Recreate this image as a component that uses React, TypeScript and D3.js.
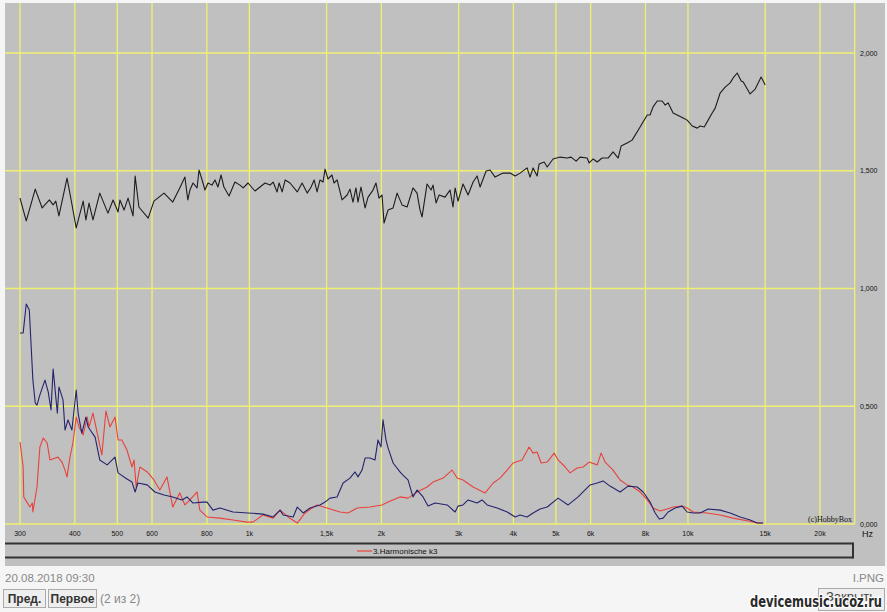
import React from "react";
import * as d3 from "d3";

type Pt = [number, number];

// frequency (Hz) / level readings
const responseCurve: Pt[] = [
  [300, 1.384], [310, 1.287], [325, 1.422], [337, 1.342], [350, 1.376], [357, 1.355], [362, 1.371], [368, 1.308],
  [384, 1.469], [392, 1.38], [403, 1.257], [418, 1.371], [424, 1.291], [431, 1.363], [440, 1.291], [456, 1.405],
  [476, 1.32], [489, 1.376], [502, 1.325], [507, 1.376], [518, 1.333], [529, 1.384], [543, 1.308], [549, 1.478],
  [560, 1.346], [588, 1.299], [606, 1.371], [639, 1.405], [669, 1.367], [694, 1.427], [713, 1.473], [724, 1.376],
  [732, 1.418], [744, 1.448], [760, 1.427], [768, 1.503], [784, 1.448], [792, 1.418], [805, 1.448], [822, 1.439],
  [835, 1.461], [848, 1.431], [862, 1.482], [875, 1.431], [899, 1.393], [927, 1.452], [952, 1.439], [968, 1.427],
  [993, 1.448], [1030, 1.414], [1086, 1.448], [1115, 1.439], [1133, 1.452], [1157, 1.41], [1169, 1.448], [1188, 1.41],
  [1207, 1.461], [1238, 1.448], [1286, 1.41], [1319, 1.448], [1355, 1.405], [1383, 1.431], [1405, 1.461], [1427, 1.41],
  [1449, 1.461], [1472, 1.452], [1488, 1.507], [1511, 1.465], [1543, 1.482], [1560, 1.448], [1585, 1.461], [1627, 1.376],
  [1671, 1.397], [1696, 1.422], [1723, 1.367], [1750, 1.427], [1769, 1.367], [1797, 1.431], [1836, 1.342], [1865, 1.388],
  [1914, 1.418], [1944, 1.448], [1975, 1.384], [2007, 1.397], [2028, 1.278], [2071, 1.333], [2127, 1.342], [2172, 1.405],
  [2229, 1.355], [2289, 1.346], [2361, 1.427], [2412, 1.405], [2450, 1.333], [2476, 1.304], [2542, 1.444], [2596, 1.418],
  [2623, 1.439], [2665, 1.363], [2708, 1.397], [2793, 1.388], [2868, 1.418], [2913, 1.346], [2945, 1.427], [2991, 1.371],
  [3070, 1.444], [3153, 1.397], [3237, 1.452], [3305, 1.478], [3358, 1.431], [3466, 1.499], [3539, 1.503], [3632, 1.473],
  [3788, 1.49], [3929, 1.49], [4037, 1.478], [4142, 1.49], [4297, 1.512], [4365, 1.473], [4435, 1.512], [4530, 1.478],
  [4578, 1.529], [4701, 1.537], [4776, 1.516], [4925, 1.55], [5110, 1.558], [5302, 1.554], [5415, 1.558], [5559, 1.541],
  [5676, 1.558], [5890, 1.554], [5953, 1.533], [6081, 1.55], [6210, 1.537], [6372, 1.554], [6576, 1.554], [6749, 1.58],
  [6932, 1.554], [7040, 1.605], [7266, 1.618], [7459, 1.63], [7778, 1.686], [8074, 1.737], [8197, 1.737], [8326, 1.771],
  [8509, 1.796], [8733, 1.796], [8873, 1.779], [9013, 1.788], [9251, 1.745], [9448, 1.737], [9750, 1.724], [9958, 1.715],
  [10226, 1.69], [10499, 1.681], [10659, 1.69], [10891, 1.686], [11118, 1.715], [11355, 1.745], [11537, 1.766], [11840, 1.83],
  [12155, 1.855], [12478, 1.873], [12677, 1.894], [12948, 1.915], [13225, 1.881], [13367, 1.877], [13859, 1.826], [14232, 1.847],
  [14682, 1.898], [15001, 1.864],
];

const k2Curve: Pt[] = [
  [300, 0.811], [305, 0.811], [310, 0.934], [315, 0.909], [321, 0.611], [325, 0.514], [328, 0.505], [333, 0.548],
  [342, 0.611], [348, 0.56], [353, 0.484], [357, 0.658], [365, 0.471], [368, 0.582], [376, 0.527], [380, 0.399],
  [386, 0.442], [394, 0.399], [403, 0.569], [407, 0.471], [415, 0.386], [424, 0.454], [429, 0.412], [445, 0.369],
  [456, 0.272], [474, 0.251], [494, 0.284], [502, 0.217], [526, 0.191], [540, 0.178], [549, 0.136], [557, 0.174],
  [585, 0.166], [609, 0.136], [639, 0.123], [669, 0.115], [702, 0.102], [721, 0.115], [744, 0.089], [784, 0.093],
  [801, 0.093], [826, 0.059], [857, 0.068], [918, 0.051], [993, 0.047], [1074, 0.042], [1133, 0.03], [1175, 0.059],
  [1194, 0.038], [1259, 0.03], [1286, 0.072], [1326, 0.047], [1375, 0.068], [1449, 0.081], [1488, 0.093], [1527, 0.11],
  [1585, 0.115], [1636, 0.174], [1696, 0.195], [1742, 0.221], [1769, 0.2], [1807, 0.229], [1836, 0.28], [1884, 0.28],
  [1934, 0.272], [1965, 0.357], [1996, 0.327], [2017, 0.442], [2049, 0.357], [2071, 0.323], [2127, 0.259], [2205, 0.221],
  [2240, 0.208], [2300, 0.187], [2361, 0.115], [2412, 0.144], [2489, 0.115], [2555, 0.076], [2651, 0.089], [2825, 0.081],
  [2945, 0.051], [2991, 0.076], [3070, 0.081], [3153, 0.102], [3305, 0.089], [3393, 0.102], [3484, 0.081], [3673, 0.068],
  [3871, 0.051], [4037, 0.03], [4142, 0.038], [4297, 0.03], [4435, 0.047], [4601, 0.064], [4776, 0.072], [5057, 0.11],
  [5331, 0.081], [5618, 0.115], [5982, 0.166], [6210, 0.174], [6404, 0.183], [6641, 0.161], [7003, 0.136], [7304, 0.161],
  [7659, 0.157], [7906, 0.136], [8197, 0.093], [8418, 0.047], [8600, 0.021], [8775, 0.025], [9013, 0.051], [9348, 0.068],
  [9699, 0.076], [9958, 0.051], [10281, 0.047], [10659, 0.047], [11118, 0.064], [11840, 0.059], [12478, 0.047], [13151, 0.03],
  [13859, 0.017], [14386, 0.004], [14836, 0.004],
];

const k3Curve: Pt[] = [
  [300, 0.348], [305, 0.242], [306, 0.115], [311, 0.093], [316, 0.072], [320, 0.089], [321, 0.051], [328, 0.157],
  [333, 0.327], [339, 0.365], [346, 0.344], [351, 0.272], [361, 0.28], [366, 0.284], [374, 0.263], [380, 0.229],
  [384, 0.2], [390, 0.284], [396, 0.344], [403, 0.454], [409, 0.412], [418, 0.378], [427, 0.454], [431, 0.412],
  [440, 0.471], [450, 0.386], [461, 0.293], [471, 0.48], [481, 0.412], [494, 0.454], [502, 0.357], [512, 0.357],
  [526, 0.314], [540, 0.242], [546, 0.272], [552, 0.157], [563, 0.242], [585, 0.221], [606, 0.187], [625, 0.144],
  [649, 0.2], [669, 0.072], [694, 0.132], [713, 0.081], [732, 0.102], [760, 0.136], [771, 0.059], [801, 0.03],
  [857, 0.025], [918, 0.017], [988, 0.008], [1019, 0.008], [1074, 0.038], [1133, 0.025], [1175, 0.059], [1226, 0.03],
  [1286, 0.004], [1340, 0.047], [1390, 0.068], [1427, 0.081], [1503, 0.068], [1609, 0.051], [1679, 0.047], [1761, 0.068],
  [1884, 0.072], [2007, 0.081], [2071, 0.093], [2205, 0.115], [2300, 0.11], [2412, 0.136], [2542, 0.157], [2623, 0.178],
  [2766, 0.195], [2898, 0.229], [2977, 0.195], [3070, 0.187], [3237, 0.157], [3448, 0.132], [3597, 0.174], [3729, 0.195],
  [3871, 0.229], [3992, 0.259], [4186, 0.272], [4343, 0.327], [4435, 0.301], [4530, 0.306], [4627, 0.259], [4776, 0.263],
  [4954, 0.301], [5057, 0.272], [5248, 0.242], [5386, 0.217], [5588, 0.238], [5767, 0.242], [5953, 0.263], [6210, 0.251],
  [6339, 0.301], [6474, 0.263], [6749, 0.229], [7003, 0.187], [7266, 0.166], [7498, 0.157], [7778, 0.136], [8074, 0.102],
  [8326, 0.068], [8639, 0.055], [8964, 0.064], [9251, 0.072], [9699, 0.076], [9958, 0.068], [10281, 0.051], [11064, 0.047],
  [11840, 0.038], [12677, 0.025], [13723, 0.013], [14386, 0.004], [14836, 0.004],
];

const freqTicks = [300, 400, 500, 600, 800, 1000, 1500, 2000, 3000, 4000, 5000, 6000, 8000, 10000, 15000, 20000];
const freqLabels = ["300", "400", "500", "600", "800", "1k", "1,5k", "2k", "3k", "4k", "5k", "6k", "8k", "10k", "15k", "20k"];
const gridEnd = 24000;
const levelTicks = [0, 0.5, 1, 1.5, 2];
const levelLabels = ["0,000", "0,500", "1,000", "1,500", "2,000"];

const W = 887;
const H = 612;

export default function App() {
  const x = d3.scaleLog().domain([300, 20000]).range([20, 820]);
  const y = d3.scaleLinear().domain([0, 2]).range([524, 53]);
  const line = d3.line<Pt>().x((d) => x(d[0])).y((d) => y(d[1]));

  const plotLeft = 5;
  const plotTop = 3;
  const gridRight = x(gridEnd);
  const gridColor = "#f0f070";
  const sans = "'Liberation Sans', Arial, sans-serif";

  return (
    <svg width={W} height={H} style={{ position: "absolute", left: 0, top: 0 }} fontFamily={sans}>
      <rect x={0} y={0} width={W} height={H} fill="#f5f5f5" />
      {/* chart panel */}
      <rect x={plotLeft} y={plotTop} width={W - plotLeft - 2} height={566 - plotTop} fill="#c0c0c0" />

      <g stroke={gridColor} strokeWidth={1.3}>
        {levelTicks.map((t) => (
          <line key={t} x1={plotLeft} x2={gridRight} y1={y(t)} y2={y(t)} />
        ))}
        {[...freqTicks, gridEnd].map((f) => (
          <line key={f} x1={x(f)} x2={x(f)} y1={plotTop} y2={y(0)} />
        ))}
      </g>

      <g fill="none" strokeWidth={1.1} strokeLinejoin="round">
        <path d={line(responseCurve) ?? undefined} stroke="#1c1c1c" />
        <path d={line(k3Curve) ?? undefined} stroke="#e8423c" />
        <path d={line(k2Curve) ?? undefined} stroke="#24246e" />
      </g>

      <g fontSize={7} fill="#111" textAnchor="middle">
        {freqTicks.map((f, i) => (
          <text key={f} x={x(f)} y={536}>{freqLabels[i]}</text>
        ))}
      </g>
      <g fontSize={7} fill="#111">
        {levelTicks.map((t, i) => (
          <text key={t} x={860} y={y(t) + 2.5}>{levelLabels[i]}</text>
        ))}
        <text x={862} y={537} fontSize={9}>Hz</text>
      </g>
      <text x={852} y={522} fontSize={8} textAnchor="end" fontFamily="'Liberation Serif', serif" fill="#111">(c)HobbyBox</text>

      {/* legend bar */}
      <line x1={plotLeft} x2={853} y1={543.5} y2={543.5} stroke="#333" strokeWidth={2} />
      <line x1={plotLeft} x2={853} y1={557.5} y2={557.5} stroke="#333" strokeWidth={2} />
      <line x1={853} x2={853} y1={542.5} y2={558.5} stroke="#333" strokeWidth={2} />
      <line x1={357} x2={372} y1={551} y2={551} stroke="#e8423c" strokeWidth={1.2} />
      <text x={373} y={554} fontSize={8} fill="#111">3.Harmonische k3</text>

      {/* page chrome below */}
      <text x={5} y={582} fontSize={11.5} fill="#888">20.08.2018 09:30</text>
      <text x={884} y={582} fontSize={11.5} fill="#888" textAnchor="end">I.PNG</text>
      <rect x={3.5} y={589.5} width={42} height={18} fill="#eeeeee" stroke="#aaa" />
      <text x={24.5} y={603} fontSize={12} fontWeight="bold" fill="#333" textAnchor="middle">Пред.</text>
      <rect x={48.5} y={589.5} width={48} height={18} fill="#eeeeee" stroke="#aaa" />
      <text x={72.5} y={603} fontSize={12} fontWeight="bold" fill="#333" textAnchor="middle">Первое</text>
      <text x={100} y={603} fontSize={12} fill="#888">(2 из 2)</text>
      <rect x={818.5} y={588.5} width={66} height={22} fill="#eeeeee" stroke="#aaa" />
      <text x={851} y={601} fontSize={13} fill="#444" textAnchor="middle">Закрыть</text>
      <text x={882} y={607} fontSize={15} fontWeight="bold" textAnchor="end" fill="#2a2a2a" stroke="#fff"
            strokeWidth={2.5} paintOrder="stroke" fontFamily="'DejaVu Sans', sans-serif"
            textLength={132} lengthAdjust="spacingAndGlyphs">
        devicemusic.ucoz.ru
      </text>
    </svg>
  );
}
